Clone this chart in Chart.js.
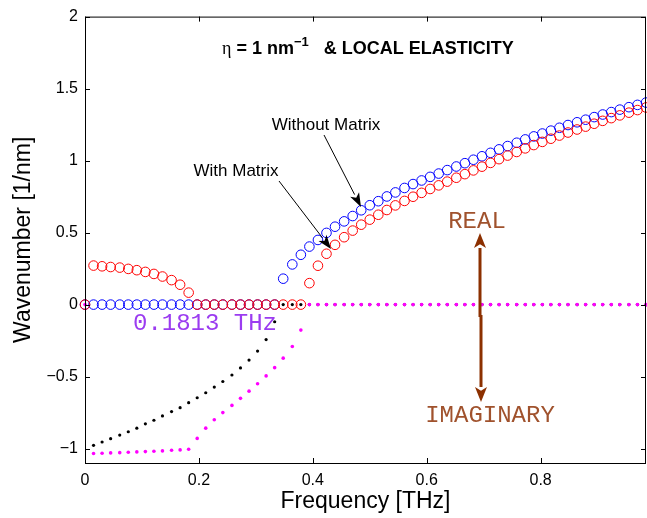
<!DOCTYPE html>
<html>
<head>
<meta charset="utf-8">
<script src="https://cdn.jsdelivr.net/npm/chart.js@4.4.0/dist/chart.umd.min.js"></script>
<style>
  html, body { margin: 0; padding: 0; background: #fff; }
</style>
</head>
<body>
<canvas id="chart" width="647" height="518"></canvas>
<script>
// frequency grid [THz]
var freq = [0, 0.015, 0.030, 0.045, 0.061, 0.076, 0.091, 0.106, 0.121, 0.136,
  0.152, 0.167, 0.182, 0.197, 0.212, 0.227, 0.242, 0.258, 0.273, 0.288,
  0.303, 0.318, 0.333, 0.348, 0.364, 0.379, 0.394, 0.409, 0.424, 0.439,
  0.455, 0.470, 0.485, 0.500, 0.515, 0.530, 0.545, 0.561, 0.576, 0.591,
  0.606, 0.621, 0.636, 0.652, 0.667, 0.682, 0.697, 0.712, 0.727, 0.742,
  0.758, 0.773, 0.788, 0.803, 0.818, 0.833, 0.848, 0.864, 0.879, 0.894,
  0.909, 0.924, 0.939, 0.955, 0.970, 0.985];

// without matrix - real part (blue circles)
var realWithout = [0, 0, 0, 0, 0, 0, 0, 0, 0, 0,
  0, 0, 0, 0, 0, 0, 0, 0, 0, 0,
  0, 0, 0, 0.180, 0.279, 0.346, 0.403, 0.449, 0.498, 0.541,
  0.578, 0.615, 0.655, 0.690, 0.718, 0.751, 0.779, 0.810, 0.837, 0.862,
  0.887, 0.910, 0.934, 0.959, 0.982, 1.006, 1.030, 1.054, 1.078, 1.101,
  1.124, 1.147, 1.168, 1.188, 1.208, 1.228, 1.247, 1.266, 1.284, 1.302,
  1.320, 1.337, 1.354, 1.371, 1.387, 1.403];

// without matrix - imaginary part (black dots)
var imagWithout = [null, -0.977, -0.954, -0.931, -0.906, -0.883, -0.858, -0.828, -0.803, -0.773,
  -0.743, -0.716, -0.681, -0.647, -0.612, -0.573, -0.534, -0.489, -0.440, -0.385,
  -0.323, -0.243, -0.119, 0, 0, 0, 0, 0, 0, 0,
  0, 0, 0, 0, 0, 0, 0, 0, 0, 0,
  0, 0, 0, 0, 0, 0, 0, 0, 0, 0,
  0, 0, 0, 0, 0, 0, 0, 0, 0, 0,
  0, 0, 0, 0, 0, 0];

// with matrix - real part (red circles)
var realWith = [0, 0.271, 0.266, 0.261, 0.257, 0.248, 0.239, 0.227, 0.213, 0.195,
  0.170, 0.138, 0.083, 0, 0, 0, 0, 0, 0, 0,
  0, 0, 0, 0, 0, 0, 0.149, 0.270, 0.353, 0.415,
  0.468, 0.514, 0.555, 0.590, 0.624, 0.657, 0.689, 0.720, 0.749, 0.776,
  0.803, 0.828, 0.854, 0.881, 0.906, 0.932, 0.958, 0.984, 1.010, 1.035,
  1.060, 1.085, 1.108, 1.130, 1.152, 1.174, 1.195, 1.216, 1.236, 1.256,
  1.276, 1.295, 1.314, 1.333, 1.351, 1.369];

// with matrix - imaginary part (magenta dots)
var imagWith = [0, -1.034, -1.032, -1.030, -1.028, -1.025, -1.023, -1.021, -1.018, -1.016,
  -1.011, -1.009, -1.005, -0.929, -0.858, -0.800, -0.750, -0.700, -0.651, -0.601,
  -0.550, -0.495, -0.438, -0.372, -0.291, -0.177, 0, 0, 0, 0,
  0, 0, 0, 0, 0, 0, 0, 0, 0, 0,
  0, 0, 0, 0, 0, 0, 0, 0, 0, 0,
  0, 0, 0, 0, 0, 0, 0, 0, 0, 0,
  0, 0, 0, 0, 0, 0];

var xTicks = [0, 0.2, 0.4, 0.6, 0.8];
var yTicks = [-1, -0.5, 0, 0.5, 1, 1.5, 2];

function toPoints(ys) {
  var pts = [];
  for (var i = 0; i < freq.length; i++) {
    if (ys[i] !== null) pts.push({ x: freq[i], y: ys[i] });
  }
  return pts;
}

function fmt(v) {
  return String(v).replace('-', '\u2212');
}

function arrow(ctx, x1, y1, x2, y2, color, lw, hl, hw) {
  var a = Math.atan2(y2 - y1, x2 - x1);
  var bx = x2 - hl * Math.cos(a), by = y2 - hl * Math.sin(a);
  ctx.strokeStyle = color;
  ctx.fillStyle = color;
  ctx.lineWidth = lw;
  ctx.beginPath();
  ctx.moveTo(x1, y1);
  ctx.lineTo(bx, by);
  ctx.stroke();
  ctx.beginPath();
  ctx.moveTo(x2, y2);
  ctx.lineTo(bx + hw * Math.sin(a), by - hw * Math.cos(a));
  ctx.lineTo(bx + 0.25 * hl * Math.cos(a), by + 0.25 * hl * Math.sin(a));
  ctx.lineTo(bx - hw * Math.sin(a), by + hw * Math.cos(a));
  ctx.closePath();
  ctx.fill();
}

var decor = {
  id: 'decor',
  afterDraw: function (chart) {
    var ctx = chart.ctx;
    var a = chart.chartArea;
    var xs = chart.scales.x, ys = chart.scales.y;
    ctx.save();

    // box and inward ticks
    ctx.strokeStyle = '#000';
    ctx.lineWidth = 1;
    ctx.strokeRect(a.left + 0.5, a.top + 0.5, a.right - a.left - 1, a.bottom - a.top);
    ctx.beginPath();
    xTicks.forEach(function (v) {
      var px = Math.round(xs.getPixelForValue(v)) + 0.5;
      ctx.moveTo(px, a.bottom); ctx.lineTo(px, a.bottom - 5);
      ctx.moveTo(px, a.top); ctx.lineTo(px, a.top + 5);
    });
    yTicks.forEach(function (v) {
      var py = Math.round(ys.getPixelForValue(v)) + 0.5;
      ctx.moveTo(a.left, py); ctx.lineTo(a.left + 5, py);
      ctx.moveTo(a.right, py); ctx.lineTo(a.right - 5, py);
    });
    ctx.stroke();

    // title
    ctx.fillStyle = '#000';
    ctx.textBaseline = 'alphabetic';
    ctx.textAlign = 'left';
    var tx = 222, ty = 54;
    ctx.font = '18px "Liberation Serif"';
    ctx.fillText('\u03b7', tx, ty);
    tx += ctx.measureText('\u03b7').width;
    ctx.font = 'bold 18px "Liberation Sans"';
    ctx.fillText(' = 1 nm', tx, ty);
    tx += ctx.measureText(' = 1 nm').width;
    ctx.font = 'bold 13px "Liberation Sans"';
    ctx.fillText('\u22121', tx, ty - 8);
    tx += ctx.measureText('\u22121').width;
    ctx.font = 'bold 18px "Liberation Sans"';
    ctx.fillText('   & LOCAL ELASTICITY', tx, ty);

    // series notes
    ctx.font = '17px "Liberation Sans"';
    ctx.textAlign = 'center';
    ctx.fillText('Without Matrix', 326, 130);
    ctx.fillText('With Matrix', 236, 176);
    arrow(ctx, 324, 135, 361, 207, '#000', 1, 14, 5);
    arrow(ctx, 279, 181, 331, 249, '#000', 1, 14, 5);

    // cut-off note
    ctx.font = '24px "Liberation Mono"';
    ctx.fillStyle = '#9b3cf0';
    ctx.textAlign = 'left';
    ctx.fillText('0.1813 THz', 133, 330);

    // real / imaginary
    ctx.fillStyle = '#a0522d';
    ctx.textAlign = 'center';
    ctx.fillText('REAL', 477, 228);
    ctx.fillText('IMAGINARY', 490, 422);
    arrow(ctx, 480, 317, 480, 233, '#8c3000', 3, 15, 6);
    arrow(ctx, 481, 315, 481, 402, '#8c3000', 3, 15, 6);

    ctx.restore();
  }
};

var ctx = document.getElementById('chart').getContext('2d');
var chart = new Chart(ctx, {
  type: 'scatter',
  data: {
    datasets: [{
      label: 'Im (with matrix)',
      data: toPoints(imagWith),
      pointStyle: 'circle',
      pointRadius: 1.8,
      pointBorderWidth: 0,
      pointBackgroundColor: '#ff00ff',
      order: 0,
      clip: false
    }, {
      label: 'Im (without matrix)',
      data: toPoints(imagWithout),
      pointStyle: 'circle',
      pointRadius: 1.6,
      pointBorderWidth: 0,
      pointBackgroundColor: '#000000',
      order: 1,
      clip: false
    }, {
      label: 'Re (with matrix)',
      data: toPoints(realWith),
      pointStyle: 'circle',
      pointRadius: 4.8,
      pointBorderWidth: 1,
      pointBorderColor: '#ff0000',
      pointBackgroundColor: 'rgba(0,0,0,0)',
      order: 2,
      clip: false
    }, {
      label: 'Re (without matrix)',
      data: toPoints(realWithout),
      pointStyle: 'circle',
      pointRadius: 4.8,
      pointBorderWidth: 1,
      pointBorderColor: '#0000ff',
      pointBackgroundColor: 'rgba(0,0,0,0)',
      order: 3,
      clip: false
    }]
  },
  options: {
    responsive: false,
    animation: false,
    events: [],
    layout: { autoPadding: false, padding: { top: 15, right: 1, left: 0, bottom: 0 } },
    plugins: {
      legend: { display: false },
      tooltip: { enabled: false }
    },
    scales: {
      x: {
        type: 'linear',
        min: 0,
        max: 0.985,
        grid: { display: false, drawTicks: false },
        border: { display: false },
        afterBuildTicks: function (s) { s.ticks = xTicks.map(function (v) { return { value: v }; }); },
        afterFit: function (s) { s.height = 55; },
        ticks: {
          padding: 8,
          color: '#000',
          font: { family: '"Liberation Sans"', size: 16 },
          maxRotation: 0,
          callback: function (v) { return fmt(v); }
        },
        title: {
          display: true,
          text: 'Frequency [THz]',
          color: '#000',
          font: { family: '"Liberation Sans"', size: 23 },
          padding: { top: 0, bottom: 3 }
        }
      },
      y: {
        type: 'linear',
        min: -1.1,
        max: 2,
        grid: { display: false, drawTicks: false },
        border: { display: false },
        afterBuildTicks: function (s) { s.ticks = yTicks.map(function (v) { return { value: v }; }); },
        afterFit: function (s) { s.width = 85; },
        ticks: {
          padding: 7,
          color: '#000',
          font: { family: '"Liberation Sans"', size: 16 },
          callback: function (v) { return fmt(v); }
        },
        title: {
          display: true,
          text: 'Wavenumber [1/nm]',
          color: '#000',
          font: { family: '"Liberation Sans"', size: 23 },
          padding: { top: 10, bottom: 0 }
        }
      }
    }
  },
  plugins: [decor]
});
</script>
</body>
</html>
